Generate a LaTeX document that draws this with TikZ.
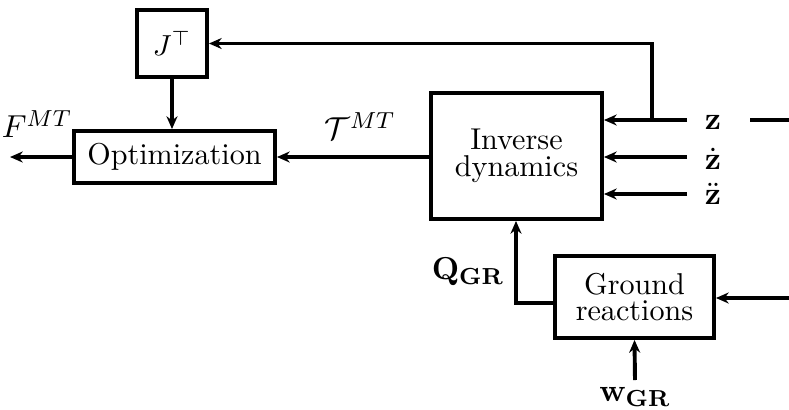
\documentclass[tikz,border=0pt]{standalone}
\usetikzlibrary{arrows.meta}
\begin{document}
\begin{tikzpicture}[x=0.345pt,y=-0.345pt,
  box/.style={draw,line width=1.35pt,inner sep=0pt,align=center,font=\fontsize{10.4}{9.2}\selectfont},
  conn/.style={line width=1.35pt},
  arr/.style={line width=1.35pt,-{Stealth[length=4.4pt,width=3.8pt]}},
  lbl/.style={inner sep=0pt,font=\fontsize{11}{12}\selectfont}]
\useasboundingbox (0,0) rectangle (789,409);
\node[box,minimum width=70*0.345pt,minimum height=67*0.345pt] (JT) at (172,43.5) {$J^{\top}$};
\node[box,minimum width=201*0.345pt,minimum height=52*0.345pt] (opt) at (174.5,157) {Optimization};
\node[box,minimum width=171*0.345pt,minimum height=126*0.345pt] (inv) at (516.5,156) {Inverse\\dynamics};
\node[box,minimum width=159*0.345pt,minimum height=82*0.345pt] (gr) at (634.5,297) {Ground\\reactions};
\node[lbl] (z) at (713,122) {$\mathbf{z}$};
\node[lbl] (zd) at (713,159) {$\dot{\mathbf{z}}$};
\node[lbl] (zdd) at (713,194) {$\ddot{\mathbf{z}}$};
\node[lbl] (F) at (37,124) {$F^{MT}$};
\node[lbl] (T) at (360,126) {$\mathcal{T}^{MT}$};
\node[lbl] (Q) at (468,272) {$\mathbf{Q}_{\mathbf{GR}}$};
\node[lbl] (w) at (635,397) {$\mathbf{w}_{\mathbf{GR}}$};
\coordinate (zs) at (687,120);
\coordinate (zds) at (687,157);
\coordinate (zdds) at (687,194);
\coordinate (fb) at (652,120);
\coordinate (fout) at (10,157);
\coordinate (zr1) at (750,120);
\coordinate (zr2) at (789,120);
\coordinate (gin) at (789,298);
\coordinate (qc) at (516,303);
\coordinate (wg) at (635,380);
\draw[arr] (JT.south) -- (JT.south |- opt.north);
\draw[arr] (opt.west) -- (fout);
\draw[arr] (inv.west |- opt.east) -- (opt.east);
\draw[arr] (zs) -- (inv.east |- zs);
\draw[arr] (zds) -- (inv.east |- zds);
\draw[arr] (zdds) -- (inv.east |- zdds);
\draw[arr] (fb) -- (fb |- JT.east) -- (JT.east);
\draw[conn] (zr1) -- (zr2);
\draw[arr] (gin) -- (gr.east |- gin);
\draw[arr] (gr.west |- qc) -- (qc) -- (qc |- inv.south);
\draw[arr] (wg) -- (gr.south);
\end{tikzpicture}
\end{document}
